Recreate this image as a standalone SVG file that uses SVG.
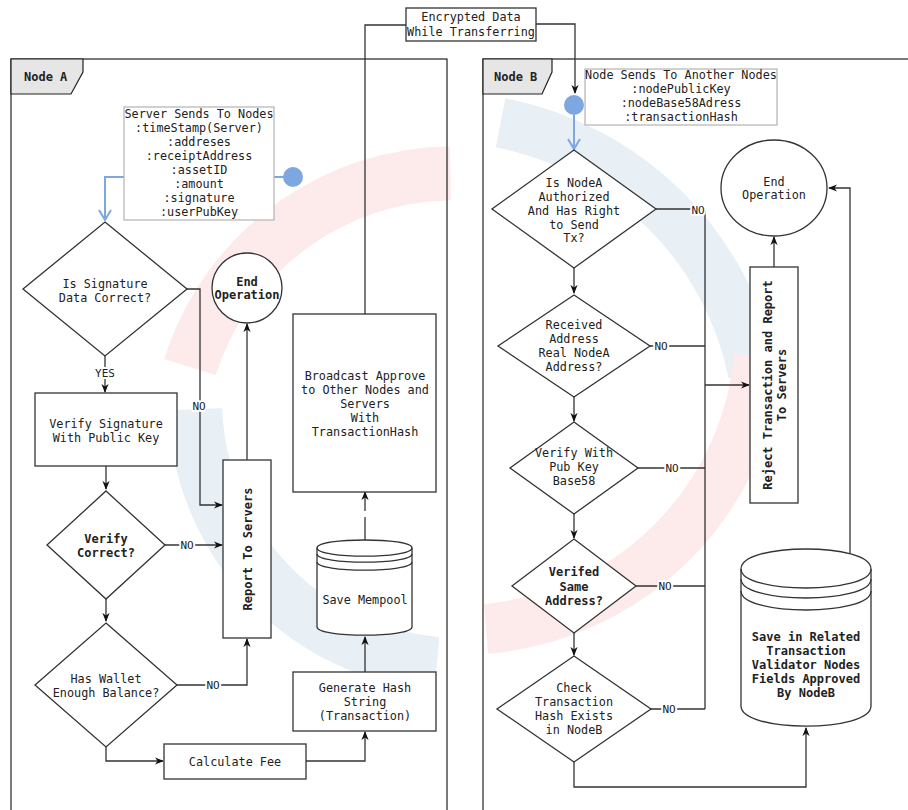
<svg xmlns="http://www.w3.org/2000/svg" width="908" height="810" viewBox="0 0 908 810">
  <defs>
    <style>
      text { font-family: "DejaVu Sans Mono", "Liberation Mono", monospace; font-size: 11.8px; fill: #222; }
      .b { font-weight: bold; font-size: 12px; }
      .c { text-anchor: middle; }
      .shape { fill: #fff; stroke: #333; stroke-width: 1.3; }
      .note { fill: #fff; stroke: #b3b3b3; stroke-width: 1.2; }
      .frame { fill: none; stroke: #222; stroke-width: 1.2; }
      .tab { fill: #e6e6e6; stroke: #222; stroke-width: 1.2; }
      .edge { fill: none; stroke: #333; stroke-width: 1.3; }
      .arr { marker-end: url(#ah); }
      .blue { fill: none; stroke: #7ea6e0; stroke-width: 2; }
      .lbl { text-anchor: middle; font-size: 11px; paint-order: stroke; stroke: #fff; stroke-width: 4px; stroke-linejoin: round; }
      .wm { fill: none; }
    </style>
    <marker id="ah" viewBox="0 0 10 10" refX="9" refY="5" markerWidth="9" markerHeight="9" markerUnits="userSpaceOnUse" orient="auto">
      <path d="M0,1 L10,5 L0,9 L3,5 Z" fill="#111"/>
    </marker>
    <marker id="ob" viewBox="0 0 12 14" refX="11" refY="7" markerWidth="12" markerHeight="14" markerUnits="userSpaceOnUse" orient="auto">
      <path d="M1,1 L11,7 L1,13" fill="none" stroke="#7ea6e0" stroke-width="2"/>
    </marker>
  </defs>

  <rect width="908" height="810" fill="#fff"/>

  <!-- faint background logo -->
  <g id="watermark" class="wm">
    <path d="M 190.0 367.0 A 277 277 0 0 1 450.3 173.2" stroke="#fdeaea" stroke-width="54"/>
    <path d="M 500.6 122.8 A 320 320 0 0 1 753.1 373.4" stroke="#e8eff5" stroke-width="50"/>
    <path d="M 436.9 664.0 A 265 265 0 0 1 195.2 409.2" stroke="#e8eff5" stroke-width="54"/>
    <path d="M 758.9 356.1 A 300 300 0 0 1 486.1 628.9" stroke="#fdeaea" stroke-width="50"/>
  </g>

  <!-- swimlane frames -->
  <g id="lane-a">
    <rect class="frame" x="11" y="59" width="436" height="760"/>
    <path class="tab" d="M11,59 H83 V72 L71,94 H11 Z"/>
    <text class="b" x="24" y="81">Node A</text>
  </g>
  <g id="lane-b">
    <rect class="frame" x="483" y="59" width="440" height="760"/>
    <path class="tab" d="M483,59 H552 V72 L542,94 H483 Z"/>
    <text class="b" x="494" y="81">Node B</text>
  </g>

  <!-- connectors -->
  <g id="connectors">
    <!-- Node A flow -->
    <path class="blue" d="M274,177 H284"/>
    <path class="blue" d="M124,177 H105 V220" marker-end="url(#ob)"/>
    <path class="edge arr" d="M187,289 H200 V505 H222"/>
    <path class="edge arr" d="M105,356 V392"/>
    <path class="edge arr" d="M106,466 V489"/>
    <path class="edge arr" d="M165,545 H222"/>
    <path class="edge arr" d="M106,599 V621"/>
    <path class="edge arr" d="M177,685 H247 V639"/>
    <path class="edge arr" d="M106,747 V761 H163"/>
    <path class="edge arr" d="M306,761 H365 V732"/>
    <path class="edge arr" d="M365,672 V637"/>
    <path class="edge" d="M365,540 V517"/>
    <path class="edge arr" d="M365,511 V492"/>
    <path class="edge arr" d="M247,460 V324"/>
    <path class="edge" d="M365,314 V25 H406"/>
    <path class="edge arr" d="M536,24 H575 V93"/>
    <!-- Node B flow -->
    <path class="blue" d="M574,115 V149" marker-end="url(#ob)"/>
    <path class="edge" d="M656,209 H705 V709"/>
    <path class="edge" d="M650,346 H705"/>
    <path class="edge" d="M638,468 H705"/>
    <path class="edge" d="M636,586 H705"/>
    <path class="edge" d="M651,709 H705"/>
    <path class="edge arr" d="M705,385 H749"/>
    <path class="edge arr" d="M574,268 V293"/>
    <path class="edge arr" d="M574,397 V421"/>
    <path class="edge arr" d="M574,514 V538"/>
    <path class="edge arr" d="M574,633 V655"/>
    <path class="edge arr" d="M574,762 V787 H806 V728"/>
    <path class="edge arr" d="M774,267 V237"/>
    <path class="edge arr" d="M850,556 V188 H829"/>

    <text class="lbl" x="199" y="410">NO</text>
    <text class="lbl" x="105" y="377">YES</text>
    <text class="lbl" x="187" y="549">NO</text>
    <text class="lbl" x="213" y="689">NO</text>
    <text class="lbl" x="698" y="214">NO</text>
    <text class="lbl" x="661" y="350">NO</text>
    <text class="lbl" x="672" y="472">NO</text>
    <text class="lbl" x="665" y="590">NO</text>
    <text class="lbl" x="669" y="713">NO</text>
  </g>

  <!-- link box between lanes -->
  <g id="encrypted">
    <rect class="shape" x="406" y="8" width="130" height="33" stroke-width="1.2"/>
    <text class="c" x="471" y="21">Encrypted Data</text>
    <text class="c" x="471" y="36">While Transferring</text>
  </g>

  <!-- Node A -->
  <g id="a-note">
    <rect class="note" x="124" y="107" width="150" height="113"/>
    <text class="c" x="199" y="118">Server Sends To Nodes</text>
    <text class="c" x="199" y="132">:timeStamp(Server)</text>
    <text class="c" x="199" y="146">:addreses</text>
    <text class="c" x="199" y="160">:receiptAddress</text>
    <text class="c" x="199" y="174">:assetID</text>
    <text class="c" x="199" y="188">:amount</text>
    <text class="c" x="199" y="202">:signature</text>
    <text class="c" x="199" y="216">:userPubKey</text>
  </g>
  <g id="a-start"><circle cx="293" cy="177" r="10" fill="#7ea6e0"/></g>
  <g id="a-sig-check">
    <polygon class="shape" points="105,222 187,289 105,356 23,289"/>
    <text class="c" x="105" y="288">Is Signature</text>
    <text class="c" x="105" y="302">Data Correct?</text>
  </g>
  <g id="a-verify-sig">
    <rect class="shape" x="35" y="393" width="142" height="73"/>
    <text class="c" x="106" y="428">Verify Signature</text>
    <text class="c" x="106" y="442">With Public Key</text>
  </g>
  <g id="a-verify-correct">
    <polygon class="shape" points="106,491 165,545 106,599 47,545"/>
    <text class="c b" x="106" y="543">Verify</text>
    <text class="c b" x="106" y="557">Correct?</text>
  </g>
  <g id="a-balance">
    <polygon class="shape" points="106,623 177,685 106,747 35,685"/>
    <text class="c" x="106" y="683">Has Wallet</text>
    <text class="c" x="106" y="697">Enough Balance?</text>
  </g>
  <g id="a-fee">
    <rect class="shape" x="164" y="744" width="142" height="35"/>
    <text class="c" x="235" y="766">Calculate Fee</text>
  </g>
  <g id="a-hash">
    <rect class="shape" x="293" y="672" width="143" height="59"/>
    <text class="c" x="365" y="692">Generate Hash</text>
    <text class="c" x="365" y="706">String</text>
    <text class="c" x="365" y="720">(Transaction)</text>
  </g>
  <g id="a-mempool">
    <path class="shape" d="M317,548 C317,537.3 412,537.3 412,548 V627 C412,637.7 317,637.7 317,627 Z"/>
    <path class="edge" d="M317,548 C317,558.7 412,558.7 412,548 M317,554 C317,564.7 412,564.7 412,554 M317,562 C317,572.7 412,572.7 412,562"/>
    <text class="c" x="365" y="604">Save Mempool</text>
  </g>
  <g id="a-broadcast">
    <rect class="shape" x="293" y="314" width="143" height="178"/>
    <text class="c" x="365" y="380">Broadcast Approve</text>
    <text class="c" x="365" y="394">to Other Nodes and</text>
    <text class="c" x="365" y="408">Servers</text>
    <text class="c" x="365" y="422">With</text>
    <text class="c" x="365" y="436">TransactionHash</text>
  </g>
  <g id="a-report">
    <rect class="shape" x="223" y="460" width="48" height="178"/>
    <text class="c b" transform="translate(251.5,549) rotate(-90)">Report To Servers</text>
  </g>
  <g id="a-end">
    <circle class="shape" cx="247" cy="288" r="35"/>
    <text class="c b" x="247" y="286" font-size="11">End</text>
    <text class="c b" x="247" y="299" font-size="11">Operation</text>
  </g>

  <!-- Node B -->
  <g id="b-start"><circle cx="574" cy="105" r="10" fill="#7ea6e0"/></g>
  <g id="b-note">
    <rect class="note" x="585" y="69" width="192" height="56"/>
    <text class="c" x="681" y="79">Node Sends To Another Nodes</text>
    <text class="c" x="681" y="93">:nodePublicKey</text>
    <text class="c" x="681" y="107">:nodeBase58Adress</text>
    <text class="c" x="681" y="121">:transactionHash</text>
  </g>
  <g id="b-authorized">
    <polygon class="shape" points="574,150 656,209 574,268 492,209"/>
    <text class="c" x="574" y="187">Is NodeA</text>
    <text class="c" x="574" y="201">Authorized</text>
    <text class="c" x="574" y="215">And Has Right</text>
    <text class="c" x="574" y="229">to Send</text>
    <text class="c" x="574" y="242">Tx?</text>
  </g>
  <g id="b-address">
    <polygon class="shape" points="574,295 650,346 574,397 498,346"/>
    <text class="c" x="574" y="329">Received</text>
    <text class="c" x="574" y="343">Address</text>
    <text class="c" x="574" y="357">Real NodeA</text>
    <text class="c" x="574" y="371">Address?</text>
  </g>
  <g id="b-pubkey">
    <polygon class="shape" points="574,422 638,468 574,514 510,468"/>
    <text class="c" x="574" y="457">Verify With</text>
    <text class="c" x="574" y="471">Pub Key</text>
    <text class="c" x="574" y="485">Base58</text>
  </g>
  <g id="b-same">
    <polygon class="shape" points="574,539 636,586 574,633 512,586"/>
    <text class="c b" x="574" y="576">Verifed</text>
    <text class="c b" x="574" y="591">Same</text>
    <text class="c b" x="574" y="605">Address?</text>
  </g>
  <g id="b-hash">
    <polygon class="shape" points="574,656 651,709 574,762 497,709"/>
    <text class="c" x="574" y="692">Check</text>
    <text class="c" x="574" y="706">Transaction</text>
    <text class="c" x="574" y="720">Hash Exists</text>
    <text class="c" x="574" y="734">in NodeB</text>
  </g>
  <g id="b-save">
    <path class="shape" d="M741,569 C741,542.3 871,542.3 871,569 V706 C871,732.7 741,732.7 741,706 Z"/>
    <path class="edge" d="M741,569 C741,594.3 871,594.3 871,569 M741,579 C741,604.3 871,604.3 871,579 M741,591 C741,616.3 871,616.3 871,591"/>
    <text class="c b" x="806" y="641">Save in Related</text>
    <text class="c b" x="806" y="655">Transaction</text>
    <text class="c b" x="806" y="669">Validator Nodes</text>
    <text class="c b" x="806" y="683">Fields Approved</text>
    <text class="c b" x="806" y="697">By NodeB</text>
  </g>
  <g id="b-reject">
    <rect class="shape" x="750" y="267" width="48" height="236"/>
    <text class="c b" transform="translate(772,385) rotate(-90)">Reject Transaction and Report</text>
    <text class="c b" transform="translate(786,385) rotate(-90)">To Servers</text>
  </g>
  <g id="b-end">
    <ellipse class="shape" cx="774" cy="188" rx="53" ry="48"/>
    <text class="c" x="774" y="186">End</text>
    <text class="c" x="774" y="199">Operation</text>
  </g>
</svg>
